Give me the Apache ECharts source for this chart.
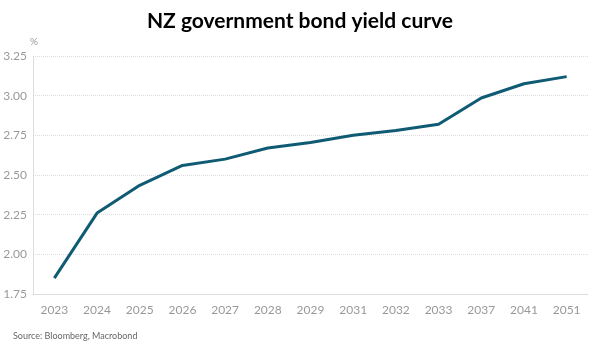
<!DOCTYPE html>
<html><head><meta charset="utf-8">
<script src="https://cdn.jsdelivr.net/npm/echarts@6/dist/echarts.min.js"></script>
<style>html,body{margin:0;padding:0;background:#fff}#c{width:600px;height:346px}</style>
</head><body><div id="c"></div>
<script>
var categories = ['2023','2024','2025','2026','2027','2028','2029','2031','2032','2033','2037','2041','2051'];
var yields = [1.85, 2.26, 2.435, 2.56, 2.60, 2.67, 2.705, 2.75, 2.78, 2.82, 2.985, 3.075, 3.12];
var yTicks = [1.75, 2.00, 2.25, 2.50, 2.75, 3.00, 3.25];

var chart = echarts.init(document.getElementById('c'));
chart.setOption({
  animation: false,
  textStyle: {fontFamily: 'Lato, "Open Sans", sans-serif'},
  title: [{
    text: 'NZ government bond yield curve', left: 'center', top: 6,
    textStyle: {fontSize: 21, fontWeight: 'bold', color: '#000', fontFamily: 'Lato, sans-serif'}
  }, {
    text: 'Source: Bloomberg, Macrobond', left: 8, top: 327,
    textStyle: {fontSize: 9, fontWeight: 'normal', color: '#666'}
  }, {
    text: '%', left: 25, top: 32,
    textStyle: {fontSize: 10, fontWeight: 'normal', color: '#999'}
  }],
  grid: {left: 33, right: 12, top: 56, bottom: 52},
  xAxis: {
    type: 'category', data: categories, boundaryGap: true,
    axisLine: {lineStyle: {color: '#ddd'}},
    axisTick: {show: false},
    axisLabel: {color: '#999', fontSize: 12, margin: 10}
  },
  yAxis: {
    type: 'value', min: yTicks[0], max: yTicks[yTicks.length-1], interval: 0.25,
    axisLine: {show: true, lineStyle: {color: '#ddd'}},
    axisTick: {show: false},
    axisLabel: {color: '#999', fontSize: 12, margin: 6, formatter: function(v){return v.toFixed(2);}},
    splitLine: {lineStyle: {color: '#ddd', type: 'dotted'}}
  },
  series: [{
    type: 'line', data: yields, symbol: 'none',
    lineStyle: {color: '#0f5b74', width: 3}
  }]
});
</script></body></html>
